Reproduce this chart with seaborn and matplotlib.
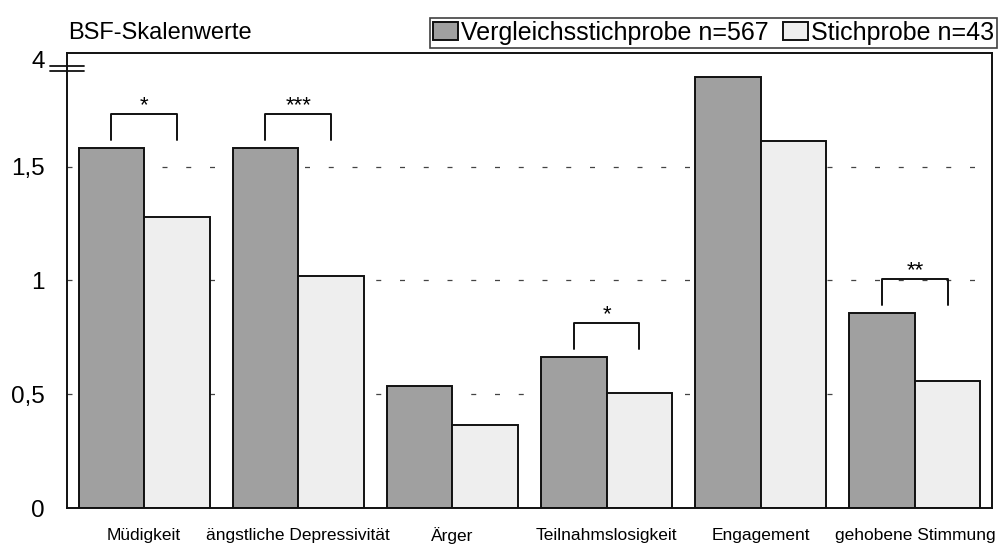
import matplotlib
matplotlib.use("Agg")
import matplotlib.pyplot as plt
import seaborn as sns
import pandas as pd

categories = ["Müdigkeit", "ängstliche Depressivität", "Ärger",
              "Teilnahmslosigkeit", "Engagement", "gehobene Stimmung"]
vergleich = [1.58, 1.58, 0.537, 0.665, 1.894, 0.855]
stichprobe = [1.28, 1.018, 0.366, 0.507, 1.612, 0.56]
significance = ["*", "***", "", "*", "", "**"]
groups = ["Vergleichsstichprobe n=567", "Stichprobe n=43"]
ytick_vals = [0, 0.5, 1, 1.5, 1.969]
ytick_labels = ["0", "0,5", "1", "1,5", "4"]

sns.set_theme(style="white")
plt.rcParams["font.family"] = ["Liberation Sans", "DejaVu Sans"]
plt.rcParams["text.color"] = "black"
plt.rcParams["xtick.color"] = "black"
plt.rcParams["ytick.color"] = "black"

df = pd.DataFrame({
    "Skala": categories * 2,
    "Wert": vergleich + stichprobe,
    "Gruppe": [groups[0]] * len(categories) + [groups[1]] * len(categories),
})

fig = plt.figure(figsize=(10, 5.44), dpi=100)
ax = fig.add_axes([0.067, 0.066, 0.925, 0.837])

sns.barplot(data=df, x="Skala", y="Wert", hue="Gruppe", order=categories,
            hue_order=groups, palette=["#a0a0a0", "#eeeeee"], saturation=1,
            edgecolor="#111111", linewidth=1.4, width=0.85, errorbar=None, ax=ax)

ax.set_ylim(0, 2.0)
ax.set_xlim(-0.5, len(categories) - 0.5)
ax.set_yticks(ytick_vals)
ax.set_yticklabels(ytick_labels, fontsize=17.5)
ax.set_xlabel("")
ax.set_ylabel("")
ax.tick_params(axis="x", labelsize=12.5, length=0, pad=14)
ax.tick_params(axis="y", length=0, pad=16)
for s in ax.spines.values():
    s.set_visible(True)
    s.set_color("#111111")
    s.set_linewidth(1.4)

# dashed grid lines
for yv in [0.5, 1, 1.5]:
    ax.axhline(yv, color="#444444", linewidth=0.9, linestyle=(0, (4, 15)), zorder=0)

# axis break marks
for yb in [1.921, 1.943]:
    ax.plot([-0.018, 0.018], [yb / 2.0, yb / 2.0], transform=ax.transAxes,
            color="#111111", linewidth=1.3, clip_on=False)

# significance brackets
n = len(categories)
bars = ax.patches
for i, sig in enumerate(significance):
    if not sig:
        continue
    b1 = bars[i]
    b2 = bars[i + n]
    x1 = b1.get_x() + b1.get_width() / 2
    x2 = b2.get_x() + b2.get_width() / 2
    top = max(vergleich[i], stichprobe[i])
    yl = top + 0.035
    yt = yl + 0.115
    ax.plot([x1, x1, x2, x2], [yl, yt, yt, yl], color="#111111", linewidth=1.4)
    ax.text((x1 + x2) / 2, yt + 0.012, sig, ha="center", va="baseline", fontsize=16)

# legend
handles, labels = ax.get_legend_handles_labels()
ax.legend(handles, labels, loc="lower right", bbox_to_anchor=(1.0054, 1.011),
          ncol=2, fontsize=18, frameon=True, fancybox=False, edgecolor="#111111",
          handlelength=1.0, handleheight=0.7, handletextpad=0.1,
          columnspacing=0.6, borderpad=0.12, borderaxespad=0.0)
leg = ax.get_legend()
leg.get_frame().set_linewidth(1.2)

fig.text(0.068, 0.94, "BSF-Skalenwerte", fontsize=17, ha="left", va="center")

fig.savefig("out.png", dpi=100, facecolor="white")
